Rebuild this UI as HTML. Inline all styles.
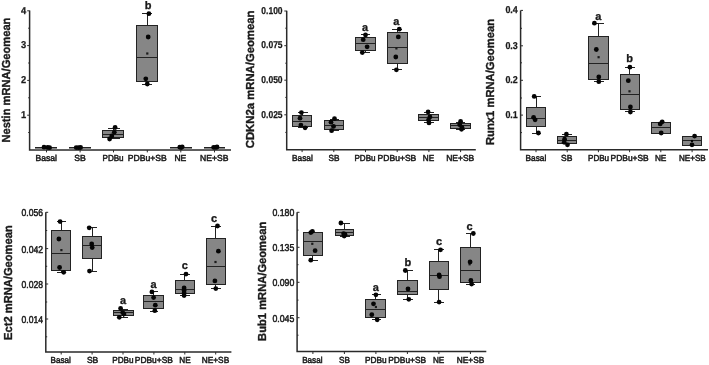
<!DOCTYPE html>
<html><head><meta charset="utf-8"><style>
html,body{margin:0;padding:0;background:#fff;}
svg{display:block;will-change:transform;}
text{font-family:"Liberation Sans", sans-serif;fill:#1a1a1a;text-rendering:geometricPrecision;}
</style></head><body>
<svg width="709" height="365" viewBox="0 0 709 365">
<rect width="709" height="365" fill="#fff"/>
<g><path d="M29.6 10.5V150H231" fill="none" stroke="#2a2a2a" stroke-width="1.5"/><path d="M29.6 10.8h-2.4M29.6 45.6h-2.4M29.6 80.4h-2.4M29.6 115.2h-2.4M29.6 28.2h-1.4M29.6 63h-1.4M29.6 97.8h-1.4M29.6 132.5h-1.4M46.5 150v2.4M80.1 150v2.4M113.5 150v2.4M147.3 150v2.4M180.8 150v2.4M214.5 150v2.4" fill="none" stroke="#2a2a2a" stroke-width="1"/><text x="21" y="13.5" font-size="10.0" font-weight="bold" stroke="#1a1a1a" stroke-width="0.25" textLength="5.2" lengthAdjust="spacingAndGlyphs">4</text><text x="21" y="48.3" font-size="10.0" font-weight="bold" stroke="#1a1a1a" stroke-width="0.25" textLength="5.2" lengthAdjust="spacingAndGlyphs">3</text><text x="21" y="83.1" font-size="10.0" font-weight="bold" stroke="#1a1a1a" stroke-width="0.25" textLength="5.2" lengthAdjust="spacingAndGlyphs">2</text><text x="21" y="117.9" font-size="10.0" font-weight="bold" stroke="#1a1a1a" stroke-width="0.25" textLength="5.2" lengthAdjust="spacingAndGlyphs">1</text><text x="35.5" y="161.3" font-size="8.8" stroke="#1a1a1a" stroke-width="0.5" textLength="21.4" lengthAdjust="spacingAndGlyphs">Basal</text><text x="74.3" y="161.3" font-size="8.8" stroke="#1a1a1a" stroke-width="0.5" textLength="11.6" lengthAdjust="spacingAndGlyphs">SB</text><text x="102.5" y="161.3" font-size="8.8" stroke="#1a1a1a" stroke-width="0.5" textLength="21.1" lengthAdjust="spacingAndGlyphs">PDBu</text><text x="127.8" y="161.3" font-size="8.8" stroke="#1a1a1a" stroke-width="0.5" textLength="39" lengthAdjust="spacingAndGlyphs">PDBu+SB</text><text x="174.4" y="161.3" font-size="8.8" stroke="#1a1a1a" stroke-width="0.5" textLength="11.9" lengthAdjust="spacingAndGlyphs">NE</text><text x="200.1" y="161.3" font-size="8.8" stroke="#1a1a1a" stroke-width="0.5" textLength="28.4" lengthAdjust="spacingAndGlyphs">NE+SB</text><text transform="translate(10 142.6) rotate(-90)" x="0" y="0" font-size="11.6" font-weight="bold" stroke="#1a1a1a" stroke-width="0.35" textLength="125" lengthAdjust="spacingAndGlyphs">Nestin mRNA/Geomean</text><rect x="35" y="148" width="22" height="1.3" fill="#868686"/><path d="M35 147.5H57" stroke="#222222" stroke-width="1"/><circle cx="44" cy="147.2" r="2.4" fill="#050505"/><circle cx="47.6" cy="147.4" r="2.4" fill="#050505"/><circle cx="49.6" cy="147.7" r="2.4" fill="#050505"/><rect x="69" y="148" width="22" height="1.3" fill="#868686"/><path d="M69 147.5H91" stroke="#222222" stroke-width="1"/><circle cx="76.2" cy="147.6" r="2.4" fill="#050505"/><circle cx="78.6" cy="147.7" r="2.4" fill="#050505"/><circle cx="80.6" cy="147.5" r="2.4" fill="#050505"/><path d="M113.5 128.5V130.5M108 128.5H120M113.5 137.5V138.5M108 138.5H120" fill="none" stroke="#222222" stroke-width="1"/><rect x="102.5" y="130.5" width="21" height="7" fill="#868686" stroke="#222222" stroke-width="1.0"/><path d="M102.5 134.5H123.5" stroke="#222222" stroke-width="1"/><circle cx="115.1" cy="127.5" r="2.4" fill="#050505"/><circle cx="114.3" cy="132.3" r="2.4" fill="#050505"/><circle cx="111.8" cy="136" r="2.4" fill="#050505"/><circle cx="109.6" cy="139" r="2.4" fill="#050505"/><path d="M147.5 13.5V25.5M142 13.5H152M147.5 81.5V84.5M142 84.5H152" fill="none" stroke="#222222" stroke-width="1"/><rect x="136.5" y="25.5" width="21" height="56" fill="#868686" stroke="#222222" stroke-width="1.0"/><path d="M136.5 57.5H157.5" stroke="#222222" stroke-width="1"/><rect x="146.2" y="52.4" width="2.2" height="2.2" fill="#1a1a1a"/><circle cx="148.9" cy="13.7" r="2.4" fill="#050505"/><circle cx="148.2" cy="37" r="2.4" fill="#050505"/><circle cx="145.8" cy="78.8" r="2.4" fill="#050505"/><circle cx="147.3" cy="84" r="2.4" fill="#050505"/><text x="148" y="8.8" font-size="11" font-weight="bold" stroke="#1a1a1a" stroke-width="0.3" text-anchor="middle">b</text><rect x="170" y="148" width="22" height="1.3" fill="#868686"/><path d="M170 147.5H192" stroke="#222222" stroke-width="1"/><circle cx="179.8" cy="147.2" r="2.4" fill="#050505"/><circle cx="181.2" cy="147.6" r="2.4" fill="#050505"/><circle cx="182.2" cy="146.8" r="2.4" fill="#050505"/><rect x="204" y="148" width="21" height="1.3" fill="#868686"/><path d="M204 147.5H225" stroke="#222222" stroke-width="1"/><circle cx="213.6" cy="147.3" r="2.4" fill="#050505"/><circle cx="215.6" cy="147.4" r="2.4" fill="#050505"/><circle cx="217" cy="147" r="2.4" fill="#050505"/></g><g><path d="M286.7 10.7V149.7H475.8" fill="none" stroke="#2a2a2a" stroke-width="1.5"/><path d="M286.7 11h-2.4M286.7 45.7h-2.4M286.7 80.2h-2.4M286.7 114.8h-2.4M286.7 28.2h-1.4M286.7 63.2h-1.4M286.7 97.4h-1.4M286.7 132.4h-1.4M302.1 149.7v2.4M333.8 149.7v2.4M365.5 149.7v2.4M397.2 149.7v2.4M428.9 149.7v2.4M460.6 149.7v2.4" fill="none" stroke="#2a2a2a" stroke-width="1"/><text x="261.3" y="13.7" font-size="10.0" font-weight="bold" stroke="#1a1a1a" stroke-width="0.25" textLength="21.3" lengthAdjust="spacingAndGlyphs">0.100</text><text x="261.3" y="48.4" font-size="10.0" font-weight="bold" stroke="#1a1a1a" stroke-width="0.25" textLength="21.3" lengthAdjust="spacingAndGlyphs">0.075</text><text x="261.3" y="82.9" font-size="10.0" font-weight="bold" stroke="#1a1a1a" stroke-width="0.25" textLength="21.3" lengthAdjust="spacingAndGlyphs">0.050</text><text x="261.3" y="117.5" font-size="10.0" font-weight="bold" stroke="#1a1a1a" stroke-width="0.25" textLength="21.3" lengthAdjust="spacingAndGlyphs">0.025</text><text x="292.1" y="161.2" font-size="8.8" stroke="#1a1a1a" stroke-width="0.5" textLength="20.7" lengthAdjust="spacingAndGlyphs">Basal</text><text x="328.5" y="161.2" font-size="8.8" stroke="#1a1a1a" stroke-width="0.5" textLength="11" lengthAdjust="spacingAndGlyphs">SB</text><text x="354.5" y="161.2" font-size="8.8" stroke="#1a1a1a" stroke-width="0.5" textLength="21" lengthAdjust="spacingAndGlyphs">PDBu</text><text x="377.6" y="161.2" font-size="8.8" stroke="#1a1a1a" stroke-width="0.5" textLength="38.7" lengthAdjust="spacingAndGlyphs">PDBu+SB</text><text x="422.8" y="161.2" font-size="8.8" stroke="#1a1a1a" stroke-width="0.5" textLength="11.4" lengthAdjust="spacingAndGlyphs">NE</text><text x="446.2" y="161.2" font-size="8.8" stroke="#1a1a1a" stroke-width="0.5" textLength="28.1" lengthAdjust="spacingAndGlyphs">NE+SB</text><text transform="translate(253.6 148.3) rotate(-90)" x="0" y="0" font-size="11.6" font-weight="bold" stroke="#1a1a1a" stroke-width="0.35" textLength="137.8" lengthAdjust="spacingAndGlyphs">CDKN2a mRNA/Geomean</text><path d="M302.5 112.5V115.5M298 112.5H308M302.5 126.5V127.5M298 127.5H308" fill="none" stroke="#222222" stroke-width="1"/><rect x="292.5" y="115.5" width="19" height="11" fill="#868686" stroke="#222222" stroke-width="1.0"/><path d="M292.5 121.5H311.5" stroke="#222222" stroke-width="1"/><circle cx="301.4" cy="112.6" r="2.4" fill="#050505"/><circle cx="300" cy="118.2" r="2.4" fill="#050505"/><circle cx="300.9" cy="125.1" r="2.4" fill="#050505"/><circle cx="305.1" cy="127.8" r="2.4" fill="#050505"/><path d="M334.5 119.5V120.5M330 119.5H339M334.5 129.5V130.5M330 130.5H339" fill="none" stroke="#222222" stroke-width="1"/><rect x="324.5" y="120.5" width="19" height="9" fill="#868686" stroke="#222222" stroke-width="1.0"/><path d="M324.5 125.5H343.5" stroke="#222222" stroke-width="1"/><circle cx="334.5" cy="118.7" r="2.4" fill="#050505"/><circle cx="331" cy="122.2" r="2.4" fill="#050505"/><circle cx="333.5" cy="126.4" r="2.4" fill="#050505"/><circle cx="331.6" cy="130.7" r="2.4" fill="#050505"/><path d="M365.5 34.5V37.5M361 34.5H370M365.5 50.5V52.5M361 52.5H370" fill="none" stroke="#222222" stroke-width="1"/><rect x="355.5" y="37.5" width="20" height="13" fill="#868686" stroke="#222222" stroke-width="1.0"/><path d="M355.5 43.5H375.5" stroke="#222222" stroke-width="1"/><circle cx="365.5" cy="34.9" r="2.4" fill="#050505"/><circle cx="363.2" cy="39.7" r="2.4" fill="#050505"/><circle cx="367.1" cy="46.8" r="2.4" fill="#050505"/><circle cx="362.3" cy="52.6" r="2.4" fill="#050505"/><text x="365.1" y="31" font-size="11" font-weight="bold" stroke="#1a1a1a" stroke-width="0.3" text-anchor="middle">a</text><path d="M397.5 29.5V32.5M392 29.5H402M397.5 63.5V69.5M392 69.5H402" fill="none" stroke="#222222" stroke-width="1"/><rect x="387.5" y="32.5" width="20" height="31" fill="#868686" stroke="#222222" stroke-width="1.0"/><path d="M387.5 47.5H407.5" stroke="#222222" stroke-width="1"/><rect x="395.3" y="47.3" width="2.2" height="2.2" fill="#1a1a1a"/><circle cx="399.3" cy="29.2" r="2.4" fill="#050505"/><circle cx="398.3" cy="36.9" r="2.4" fill="#050505"/><circle cx="395.8" cy="57" r="2.4" fill="#050505"/><circle cx="396.4" cy="69.8" r="2.4" fill="#050505"/><text x="396.4" y="25" font-size="11" font-weight="bold" stroke="#1a1a1a" stroke-width="0.3" text-anchor="middle">a</text><path d="M428.5 112.5V114.5M424 112.5H434M428.5 120.5V122.5M424 122.5H434" fill="none" stroke="#222222" stroke-width="1"/><rect x="418.5" y="114.5" width="20" height="6" fill="#868686" stroke="#222222" stroke-width="1.0"/><path d="M418.5 117.5H438.5" stroke="#222222" stroke-width="1"/><circle cx="428.1" cy="111.9" r="2.4" fill="#050505"/><circle cx="429.9" cy="116.9" r="2.4" fill="#050505"/><circle cx="428.5" cy="120.1" r="2.4" fill="#050505"/><circle cx="429" cy="122.9" r="2.4" fill="#050505"/><path d="M460.5 122.5V123.5M456 122.5H465M460.5 128.5V129.5M456 129.5H465" fill="none" stroke="#222222" stroke-width="1"/><rect x="450.5" y="123.5" width="20" height="5" fill="#868686" stroke="#222222" stroke-width="1.0"/><path d="M450.5 125.5H470.5" stroke="#222222" stroke-width="1"/><circle cx="460.6" cy="121.5" r="2.4" fill="#050505"/><circle cx="459.7" cy="124.7" r="2.4" fill="#050505"/><circle cx="462" cy="127.5" r="2.4" fill="#050505"/><circle cx="461.5" cy="129.3" r="2.4" fill="#050505"/></g><g><path d="M520.6 10.4V149.8H708" fill="none" stroke="#2a2a2a" stroke-width="1.5"/><path d="M520.6 10.4h2.4M520.6 45.8h2.4M520.6 80.3h2.4M520.6 115.1h2.4M520.6 28.3h1.4M520.6 62.8h1.4M520.6 98h1.4M520.6 132.6h1.4M536 149.8v2.4M567.2 149.8v2.4M598.4 149.8v2.4M629.6 149.8v2.4M660.8 149.8v2.4M692.1 149.8v2.4" fill="none" stroke="#2a2a2a" stroke-width="1"/><text x="505.4" y="13.1" font-size="10.0" font-weight="bold" stroke="#1a1a1a" stroke-width="0.25" textLength="12.4" lengthAdjust="spacingAndGlyphs">0.4</text><text x="505.4" y="48.5" font-size="10.0" font-weight="bold" stroke="#1a1a1a" stroke-width="0.25" textLength="12.4" lengthAdjust="spacingAndGlyphs">0.3</text><text x="505.4" y="83" font-size="10.0" font-weight="bold" stroke="#1a1a1a" stroke-width="0.25" textLength="12.4" lengthAdjust="spacingAndGlyphs">0.2</text><text x="505.4" y="117.8" font-size="10.0" font-weight="bold" stroke="#1a1a1a" stroke-width="0.25" textLength="12.4" lengthAdjust="spacingAndGlyphs">0.1</text><text x="525.6" y="161.2" font-size="8.8" stroke="#1a1a1a" stroke-width="0.5" textLength="20.7" lengthAdjust="spacingAndGlyphs">Basal</text><text x="561.1" y="161.2" font-size="8.8" stroke="#1a1a1a" stroke-width="0.5" textLength="11.4" lengthAdjust="spacingAndGlyphs">SB</text><text x="588" y="161.2" font-size="8.8" stroke="#1a1a1a" stroke-width="0.5" textLength="21.1" lengthAdjust="spacingAndGlyphs">PDBu</text><text x="610.6" y="161.2" font-size="8.8" stroke="#1a1a1a" stroke-width="0.5" textLength="38.1" lengthAdjust="spacingAndGlyphs">PDBu+SB</text><text x="654.9" y="161.2" font-size="8.8" stroke="#1a1a1a" stroke-width="0.5" textLength="11.5" lengthAdjust="spacingAndGlyphs">NE</text><text x="678.9" y="161.2" font-size="8.8" stroke="#1a1a1a" stroke-width="0.5" textLength="26.8" lengthAdjust="spacingAndGlyphs">NE+SB</text><text transform="translate(493.7 145) rotate(-90)" x="0" y="0" font-size="11.6" font-weight="bold" stroke="#1a1a1a" stroke-width="0.35" textLength="126" lengthAdjust="spacingAndGlyphs">Runx1 mRNA/Geomean</text><path d="M536.5 96.5V107.5M532 96.5H541M536.5 126.5V133.5M532 133.5H541" fill="none" stroke="#222222" stroke-width="1"/><rect x="526.5" y="107.5" width="19" height="19" fill="#868686" stroke="#222222" stroke-width="1.0"/><path d="M526.5 118.5H545.5" stroke="#222222" stroke-width="1"/><circle cx="534.2" cy="96.4" r="2.4" fill="#050505"/><circle cx="533.6" cy="117.3" r="2.4" fill="#050505"/><circle cx="535.1" cy="119.8" r="2.4" fill="#050505"/><circle cx="538.4" cy="133" r="2.4" fill="#050505"/><path d="M567.5 134.5V136.5M562 134.5H572" fill="none" stroke="#222222" stroke-width="1"/><rect x="557.5" y="136.5" width="19" height="7" fill="#868686" stroke="#222222" stroke-width="1.0"/><path d="M557.5 140.5H576.5" stroke="#222222" stroke-width="1"/><circle cx="566.4" cy="134.2" r="2.4" fill="#050505"/><circle cx="564.6" cy="139.2" r="2.4" fill="#050505"/><circle cx="564.2" cy="142.3" r="2.4" fill="#050505"/><circle cx="567.5" cy="144.8" r="2.4" fill="#050505"/><path d="M598.5 23.5V36.5M594 23.5H604M598.5 79.5V81.5M594 81.5H604" fill="none" stroke="#222222" stroke-width="1"/><rect x="588.5" y="36.5" width="20" height="43" fill="#868686" stroke="#222222" stroke-width="1.0"/><path d="M588.5 63.5H608.5" stroke="#222222" stroke-width="1"/><rect x="597.5" y="56.1" width="2.2" height="2.2" fill="#1a1a1a"/><circle cx="594.4" cy="23.2" r="2.4" fill="#050505"/><circle cx="596.3" cy="49.5" r="2.4" fill="#050505"/><circle cx="598.8" cy="76.9" r="2.4" fill="#050505"/><circle cx="598.8" cy="81.7" r="2.4" fill="#050505"/><text x="598.2" y="20" font-size="11" font-weight="bold" stroke="#1a1a1a" stroke-width="0.3" text-anchor="middle">a</text><path d="M629.5 67.5V74.5M625 67.5H635M629.5 109.5V111.5M625 111.5H635" fill="none" stroke="#222222" stroke-width="1"/><rect x="620.5" y="74.5" width="19" height="35" fill="#868686" stroke="#222222" stroke-width="1.0"/><path d="M620.5 94.5H639.5" stroke="#222222" stroke-width="1"/><rect x="628.4" y="90.2" width="2.2" height="2.2" fill="#1a1a1a"/><circle cx="629.9" cy="67.2" r="2.4" fill="#050505"/><circle cx="628.3" cy="80.7" r="2.4" fill="#050505"/><circle cx="630.4" cy="107" r="2.4" fill="#050505"/><circle cx="630.4" cy="112" r="2.4" fill="#050505"/><text x="629.5" y="62" font-size="11" font-weight="bold" stroke="#1a1a1a" stroke-width="0.3" text-anchor="middle">b</text><rect x="651.5" y="122.5" width="19" height="11" fill="#868686" stroke="#222222" stroke-width="1.0"/><path d="M651.5 127.5H670.5" stroke="#222222" stroke-width="1"/><circle cx="662.2" cy="121.8" r="2.4" fill="#050505"/><circle cx="660.2" cy="123.9" r="2.4" fill="#050505"/><circle cx="661.2" cy="133" r="2.4" fill="#050505"/><rect x="682.5" y="136.5" width="19" height="9" fill="#868686" stroke="#222222" stroke-width="1.0"/><path d="M682.5 140.5H701.5" stroke="#222222" stroke-width="1"/><circle cx="694.6" cy="136.1" r="2.4" fill="#050505"/><circle cx="692" cy="144.8" r="2.4" fill="#050505"/><circle cx="692" cy="141" r="1.2" fill="#050505"/></g><g><path d="M45.8 212.3V352.1H231.4" fill="none" stroke="#2a2a2a" stroke-width="1.5"/><path d="M45.8 212.3h2.4M45.8 248.6h2.4M45.8 284h2.4M45.8 319h2.4M45.8 230.5h1.4M45.8 266.3h1.4M45.8 302h1.4M45.8 336.8h1.4M61.2 352.1v2.4M92.1 352.1v2.4M123 352.1v2.4M153.9 352.1v2.4M184.8 352.1v2.4M215.7 352.1v2.4" fill="none" stroke="#2a2a2a" stroke-width="1"/><text x="21.5" y="216.3" font-size="10.0" font-weight="normal" stroke="#1a1a1a" stroke-width="0.5" textLength="21.5" lengthAdjust="spacingAndGlyphs">0.056</text><text x="21.5" y="252.6" font-size="10.0" font-weight="normal" stroke="#1a1a1a" stroke-width="0.5" textLength="21.5" lengthAdjust="spacingAndGlyphs">0.042</text><text x="21.5" y="288" font-size="10.0" font-weight="normal" stroke="#1a1a1a" stroke-width="0.5" textLength="21.5" lengthAdjust="spacingAndGlyphs">0.028</text><text x="21.5" y="323" font-size="10.0" font-weight="normal" stroke="#1a1a1a" stroke-width="0.5" textLength="21.5" lengthAdjust="spacingAndGlyphs">0.014</text><text x="50.6" y="363" font-size="8.8" stroke="#1a1a1a" stroke-width="0.5" textLength="20.3" lengthAdjust="spacingAndGlyphs">Basal</text><text x="86.9" y="363" font-size="8.8" stroke="#1a1a1a" stroke-width="0.5" textLength="11.4" lengthAdjust="spacingAndGlyphs">SB</text><text x="112.2" y="363" font-size="8.8" stroke="#1a1a1a" stroke-width="0.5" textLength="21.3" lengthAdjust="spacingAndGlyphs">PDBu</text><text x="134.8" y="363" font-size="8.8" stroke="#1a1a1a" stroke-width="0.5" textLength="38.1" lengthAdjust="spacingAndGlyphs">PDBu+SB</text><text x="179.3" y="363" font-size="8.8" stroke="#1a1a1a" stroke-width="0.5" textLength="11.4" lengthAdjust="spacingAndGlyphs">NE</text><text x="201.7" y="363" font-size="8.8" stroke="#1a1a1a" stroke-width="0.5" textLength="27.5" lengthAdjust="spacingAndGlyphs">NE+SB</text><text transform="translate(12.4 339.9) rotate(-90)" x="0" y="0" font-size="11.6" font-weight="bold" stroke="#1a1a1a" stroke-width="0.35" textLength="114.6" lengthAdjust="spacingAndGlyphs">Ect2 mRNA/Geomean</text><path d="M61.5 221.5V230.5M57 221.5H66M61.5 270.5V272.5M57 272.5H66" fill="none" stroke="#222222" stroke-width="1"/><rect x="51.5" y="230.5" width="19" height="40" fill="#868686" stroke="#222222" stroke-width="1.0"/><path d="M51.5 253.5H70.5" stroke="#222222" stroke-width="1"/><rect x="60.3" y="249" width="2.2" height="2.2" fill="#1a1a1a"/><circle cx="60.1" cy="221.6" r="2.4" fill="#050505"/><circle cx="58.9" cy="239" r="2.4" fill="#050505"/><circle cx="59.6" cy="267.5" r="2.4" fill="#050505"/><circle cx="63.7" cy="272.3" r="2.4" fill="#050505"/><path d="M92.5 227.5V236.5M88 227.5H97M92.5 258.5V271.5M88 271.5H97" fill="none" stroke="#222222" stroke-width="1"/><rect x="82.5" y="236.5" width="19" height="22" fill="#868686" stroke="#222222" stroke-width="1.0"/><path d="M82.5 245.5H101.5" stroke="#222222" stroke-width="1"/><circle cx="89.2" cy="227.8" r="2.4" fill="#050505"/><circle cx="91.7" cy="243.9" r="2.4" fill="#050505"/><circle cx="92.2" cy="247.6" r="2.4" fill="#050505"/><circle cx="89.5" cy="271.1" r="2.4" fill="#050505"/><path d="M123.5 309.5V310.5M119 309.5H128M123.5 315.5V317.5M119 317.5H128" fill="none" stroke="#222222" stroke-width="1"/><rect x="113.5" y="310.5" width="20" height="5" fill="#868686" stroke="#222222" stroke-width="1.0"/><path d="M113.5 312.5H133.5" stroke="#222222" stroke-width="1"/><circle cx="120.6" cy="308.4" r="2.4" fill="#050505"/><circle cx="122.7" cy="312.6" r="2.4" fill="#050505"/><circle cx="124" cy="314.1" r="2.4" fill="#050505"/><circle cx="119.3" cy="317.3" r="2.4" fill="#050505"/><text x="123" y="304.4" font-size="11" font-weight="bold" stroke="#1a1a1a" stroke-width="0.3" text-anchor="middle">a</text><path d="M153.5 291.5V295.5M150 291.5H158M153.5 308.5V311.5M150 311.5H158" fill="none" stroke="#222222" stroke-width="1"/><rect x="143.5" y="295.5" width="20" height="13" fill="#868686" stroke="#222222" stroke-width="1.0"/><path d="M143.5 301.5H163.5" stroke="#222222" stroke-width="1"/><circle cx="151.9" cy="291.9" r="2.4" fill="#050505"/><circle cx="153.6" cy="297.6" r="2.4" fill="#050505"/><circle cx="155.3" cy="305.2" r="2.4" fill="#050505"/><circle cx="154.8" cy="310.7" r="2.4" fill="#050505"/><text x="153.6" y="287.5" font-size="11" font-weight="bold" stroke="#1a1a1a" stroke-width="0.3" text-anchor="middle">a</text><path d="M184.5 274.5V280.5M180 274.5H190M184.5 293.5V295.5M180 295.5H190" fill="none" stroke="#222222" stroke-width="1"/><rect x="175.5" y="280.5" width="19" height="13" fill="#868686" stroke="#222222" stroke-width="1.0"/><path d="M175.5 289.5H194.5" stroke="#222222" stroke-width="1"/><circle cx="186" cy="274.1" r="2.4" fill="#050505"/><circle cx="184.1" cy="288" r="2.4" fill="#050505"/><circle cx="184.1" cy="290.5" r="2.4" fill="#050505"/><circle cx="184.1" cy="293" r="2.4" fill="#050505"/><circle cx="184.1" cy="295.5" r="2.4" fill="#050505"/><text x="184.7" y="268.6" font-size="11" font-weight="bold" stroke="#1a1a1a" stroke-width="0.3" text-anchor="middle">c</text><path d="M215.5 226.5V238.5M211 226.5H221M215.5 284.5V288.5M211 288.5H221" fill="none" stroke="#222222" stroke-width="1"/><rect x="206.5" y="238.5" width="19" height="46" fill="#868686" stroke="#222222" stroke-width="1.0"/><path d="M206.5 266.5H225.5" stroke="#222222" stroke-width="1"/><rect x="214.4" y="260.9" width="2.2" height="2.2" fill="#1a1a1a"/><circle cx="217.5" cy="226" r="2.4" fill="#050505"/><circle cx="218.4" cy="251.2" r="2.4" fill="#050505"/><circle cx="214.9" cy="280.9" r="2.4" fill="#050505"/><circle cx="215.8" cy="288.6" r="2.4" fill="#050505"/><text x="214" y="222.2" font-size="11" font-weight="bold" stroke="#1a1a1a" stroke-width="0.3" text-anchor="middle">c</text></g><g><path d="M297.1 212.3V351.6H486.3" fill="none" stroke="#2a2a2a" stroke-width="1.5"/><path d="M297.1 212.3h2.4M297.1 247.3h2.4M297.1 282.3h2.4M297.1 317.7h2.4M297.1 230.1h1.4M297.1 264.7h1.4M297.1 300.1h1.4M297.1 335.2h1.4M312.9 351.6v2.4M344.4 351.6v2.4M375.9 351.6v2.4M407.4 351.6v2.4M438.9 351.6v2.4M470.4 351.6v2.4" fill="none" stroke="#2a2a2a" stroke-width="1"/><text x="272.4" y="216.3" font-size="10.0" font-weight="normal" stroke="#1a1a1a" stroke-width="0.5" textLength="21.9" lengthAdjust="spacingAndGlyphs">0.180</text><text x="272.4" y="251.3" font-size="10.0" font-weight="normal" stroke="#1a1a1a" stroke-width="0.5" textLength="21.9" lengthAdjust="spacingAndGlyphs">0.135</text><text x="272.4" y="286.3" font-size="10.0" font-weight="normal" stroke="#1a1a1a" stroke-width="0.5" textLength="21.9" lengthAdjust="spacingAndGlyphs">0.090</text><text x="272.4" y="321.7" font-size="10.0" font-weight="normal" stroke="#1a1a1a" stroke-width="0.5" textLength="21.9" lengthAdjust="spacingAndGlyphs">0.045</text><text x="302.2" y="362.5" font-size="8.8" stroke="#1a1a1a" stroke-width="0.5" textLength="20.3" lengthAdjust="spacingAndGlyphs">Basal</text><text x="338.9" y="362.5" font-size="8.8" stroke="#1a1a1a" stroke-width="0.5" textLength="11" lengthAdjust="spacingAndGlyphs">SB</text><text x="364.9" y="362.5" font-size="8.8" stroke="#1a1a1a" stroke-width="0.5" textLength="21.7" lengthAdjust="spacingAndGlyphs">PDBu</text><text x="388.2" y="362.5" font-size="8.8" stroke="#1a1a1a" stroke-width="0.5" textLength="37.9" lengthAdjust="spacingAndGlyphs">PDBu+SB</text><text x="433" y="362.5" font-size="8.8" stroke="#1a1a1a" stroke-width="0.5" textLength="11.3" lengthAdjust="spacingAndGlyphs">NE</text><text x="456.7" y="362.5" font-size="8.8" stroke="#1a1a1a" stroke-width="0.5" textLength="27.6" lengthAdjust="spacingAndGlyphs">NE+SB</text><text transform="translate(266.4 340.9) rotate(-90)" x="0" y="0" font-size="11.6" font-weight="bold" stroke="#1a1a1a" stroke-width="0.35" textLength="119.2" lengthAdjust="spacingAndGlyphs">Bub1 mRNA/Geomean</text><path d="M312.5 255.5V260.5M309 260.5H318" fill="none" stroke="#222222" stroke-width="1"/><rect x="303.5" y="232.5" width="19" height="23" fill="#868686" stroke="#222222" stroke-width="1.0"/><path d="M303.5 241.5H322.5" stroke="#222222" stroke-width="1"/><rect x="311.2" y="242.7" width="2.2" height="2.2" fill="#1a1a1a"/><circle cx="310.8" cy="232.6" r="2.4" fill="#050505"/><circle cx="312.4" cy="231.3" r="2.4" fill="#050505"/><circle cx="315.1" cy="250.7" r="2.4" fill="#050505"/><circle cx="310.8" cy="260.2" r="2.4" fill="#050505"/><path d="M344.5 223.5V229.5M340 223.5H350M344.5 235.5V236.5M340 236.5H350" fill="none" stroke="#222222" stroke-width="1"/><rect x="335.5" y="229.5" width="18" height="6" fill="#868686" stroke="#222222" stroke-width="1.0"/><path d="M335.5 232.5H353.5" stroke="#222222" stroke-width="1"/><circle cx="340.9" cy="223" r="2.4" fill="#050505"/><circle cx="343.6" cy="233.7" r="2.4" fill="#050505"/><circle cx="344.2" cy="236" r="2.4" fill="#050505"/><circle cx="345" cy="234.5" r="2.4" fill="#050505"/><path d="M375.5 294.5V299.5M372 294.5H381M375.5 317.5V319.5M372 319.5H381" fill="none" stroke="#222222" stroke-width="1"/><rect x="365.5" y="299.5" width="20" height="18" fill="#868686" stroke="#222222" stroke-width="1.0"/><path d="M365.5 309.5H385.5" stroke="#222222" stroke-width="1"/><rect x="374.8" y="305.9" width="2.2" height="2.2" fill="#1a1a1a"/><circle cx="375.9" cy="294.8" r="2.4" fill="#050505"/><circle cx="373.5" cy="303.8" r="2.4" fill="#050505"/><circle cx="371.8" cy="314.7" r="2.4" fill="#050505"/><circle cx="377.2" cy="319.8" r="2.4" fill="#050505"/><text x="375.9" y="290.5" font-size="11" font-weight="bold" stroke="#1a1a1a" stroke-width="0.3" text-anchor="middle">a</text><path d="M407.5 270.5V280.5M403 270.5H413M407.5 294.5V299.5M403 299.5H413" fill="none" stroke="#222222" stroke-width="1"/><rect x="397.5" y="280.5" width="20" height="14" fill="#868686" stroke="#222222" stroke-width="1.0"/><path d="M397.5 291.5H417.5" stroke="#222222" stroke-width="1"/><circle cx="405.3" cy="270.5" r="2.4" fill="#050505"/><circle cx="408" cy="289" r="2.4" fill="#050505"/><circle cx="408.8" cy="299.3" r="2.4" fill="#050505"/><text x="407.8" y="265.8" font-size="11" font-weight="bold" stroke="#1a1a1a" stroke-width="0.3" text-anchor="middle">b</text><path d="M438.5 249.5V261.5M434 249.5H444M438.5 289.5V302.5M434 302.5H444" fill="none" stroke="#222222" stroke-width="1"/><rect x="429.5" y="261.5" width="19" height="28" fill="#868686" stroke="#222222" stroke-width="1.0"/><path d="M429.5 275.5H448.5" stroke="#222222" stroke-width="1"/><circle cx="440.5" cy="249.8" r="2.4" fill="#050505"/><circle cx="439.1" cy="274.9" r="2.4" fill="#050505"/><circle cx="439.5" cy="276.7" r="2.4" fill="#050505"/><circle cx="439.1" cy="302.1" r="2.4" fill="#050505"/><text x="439.1" y="245" font-size="11" font-weight="bold" stroke="#1a1a1a" stroke-width="0.3" text-anchor="middle">c</text><path d="M470.5 233.5V247.5M466 233.5H475M470.5 282.5V284.5M466 284.5H475" fill="none" stroke="#222222" stroke-width="1"/><rect x="460.5" y="247.5" width="20" height="35" fill="#868686" stroke="#222222" stroke-width="1.0"/><path d="M460.5 270.5H480.5" stroke="#222222" stroke-width="1"/><rect x="468.5" y="263.2" width="2.2" height="2.2" fill="#1a1a1a"/><circle cx="473.3" cy="233.5" r="2.4" fill="#050505"/><circle cx="470.1" cy="261.9" r="2.4" fill="#050505"/><circle cx="470.9" cy="280.4" r="2.4" fill="#050505"/><circle cx="471.6" cy="284.1" r="2.4" fill="#050505"/><text x="469.6" y="229.5" font-size="11" font-weight="bold" stroke="#1a1a1a" stroke-width="0.3" text-anchor="middle">c</text></g>
</svg>
</body></html>
